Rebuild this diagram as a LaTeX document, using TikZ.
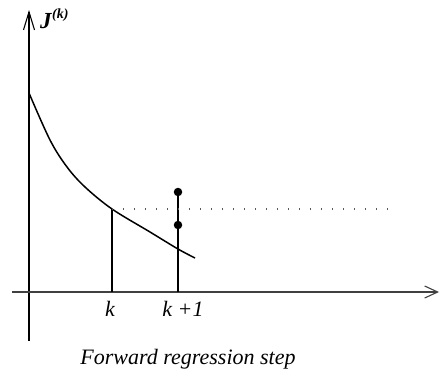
\documentclass[tikz,border=0pt]{standalone}
\usepackage{fontspec}
\setmainfont{Liberation Serif}
\usetikzlibrary{arrows.meta}
\begin{document}
\begin{tikzpicture}[x=1pt,y=-1pt,
  lbl/.style={inner sep=0pt,font=\fontsize{22}{24}\selectfont\itshape},
  axis/.style={line width=1.3pt},
  curve/.style={line width=1.5pt},
  thin/.style={line width=1.1pt},
  pt/.style={circle,fill=black,inner sep=0pt,minimum size=8.5pt}]
\useasboundingbox (0,0) rectangle (440,381);
% axes
\coordinate (yb) at (29,341);
\coordinate (yt) at (29,10);
\coordinate (xl) at (12,292);
\coordinate (xr) at (439,292);
\draw[axis,-{Straight Barb[length=18pt,width=11pt,line width=1.1pt]}] (yb) -- (yt);
\draw[axis,black!75,-{Straight Barb[length=13pt,width=12pt,line width=1.1pt]}] (xl) -- (xr);
\node[inner sep=0pt,anchor=base west,font=\bfseries\itshape] (J) at (40,28) {\fontsize{23}{24}\selectfont J\kern0.5pt\raisebox{10pt}{\fontsize{14}{16}\selectfont (k)}};
% curve
\draw[curve] plot[smooth,tension=0.55] coordinates {(29,93) (50,140) (67,167) (85,187) (112,209) (150,232) (178,249) (195,258)};
% verticals
\coordinate (ka) at (112,209);
\coordinate (kb) at (112,292);
\node[pt] (p1) at (178,192) {};
\node[pt] (p2) at (178,225) {};
\coordinate (k1b) at (178,292);
\draw[thin] (ka) -- (kb);
\draw[thin] (p1.center) -- (k1b);
% dotted level
\coordinate (d2) at (396,209);
\draw[line width=1.3pt,black!65,dash pattern=on 1.4pt off 9.6pt] (ka) -- (d2);
% labels
\node[lbl,anchor=base] (lk) at (110,316) {k};
\node[lbl,anchor=base] (lk1) at (183,316) {k +1};
\node[lbl,anchor=base] (cap) at (188,364) {Forward regression step};
\end{tikzpicture}
\end{document}
